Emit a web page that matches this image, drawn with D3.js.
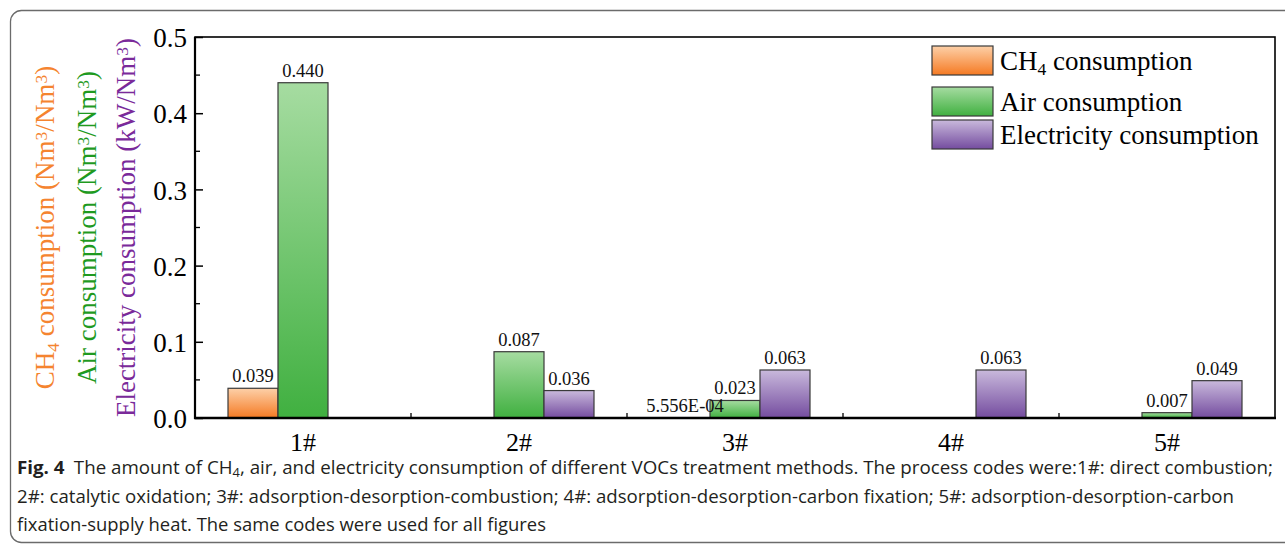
<!DOCTYPE html>
<html>
<head>
<meta charset="utf-8">
<script src="https://cdn.jsdelivr.net/npm/d3@7"></script>
<style>
  html, body { margin: 0; padding: 0; background: #fff; }
  svg { display: block; }
</style>
</head>
<body>
<svg id="chart" width="1285" height="544"></svg>
<script>
// Process codes on the x axis
const categories = ["1#", "2#", "3#", "4#", "5#"];
// Consumption per process (null = not used)
const ch4Values = [0.039, null, 0.0005556, null, null];
const airValues = [0.440, 0.087, 0.023, null, 0.007];
const elecValues = [null, 0.036, 0.063, 0.063, 0.049];
// Value labels as printed above the bars
const ch4Labels = ["0.039", null, "5.556E-04", null, null];
const airLabels = ["0.440", "0.087", "0.023", null, "0.007"];
const elecLabels = [null, "0.036", "0.063", "0.063", "0.049"];
const yTicks = [0, 0.1, 0.2, 0.3, 0.4, 0.5];
const seriesNames = ["CH4 consumption", "Air consumption", "Electricity consumption"];

const svg = d3.select("#chart");
const serif = "'Liberation Serif', 'Times New Roman', serif";

// Outer rounded figure frame
svg.append("rect")
  .attr("x", 10.5).attr("y", 10.5)
  .attr("width", 1320).attr("height", 532)
  .attr("rx", 11).attr("ry", 11)
  .attr("fill", "none").attr("stroke", "#6b6b6b").attr("stroke-width", 1.3);

const m = { left: 195, right: 1275, top: 37, bottom: 418 };

const x0 = d3.scaleBand().domain(categories).range([m.left, m.right]).paddingInner(0).paddingOuter(0);
const x1 = d3.scaleBand().domain([0, 1, 2]).range([0, 150]);
const y = d3.scaleLinear().domain([0, 0.5]).range([m.bottom, m.top]);

// Gradients for each series
const defs = svg.append("defs");
const grads = [
  { id: "gCH4", top: "#fdd0a8", bottom: "#f57a23" },
  { id: "gAir", top: "#a6dca1", bottom: "#40b040" },
  { id: "gElec", top: "#c9b9dc", bottom: "#744c9f" }
];
grads.forEach(g => {
  const lg = defs.append("linearGradient").attr("id", g.id)
    .attr("x1", 0).attr("y1", 0).attr("x2", 0).attr("y2", 1);
  lg.append("stop").attr("offset", "0%").attr("stop-color", g.top);
  lg.append("stop").attr("offset", "100%").attr("stop-color", g.bottom);
});

const series = [
  { values: ch4Values, labels: ch4Labels, fill: "url(#gCH4)" },
  { values: airValues, labels: airLabels, fill: "url(#gAir)" },
  { values: elecValues, labels: elecLabels, fill: "url(#gElec)" }
];

const groupOffset = (x0.bandwidth() - 150) / 2;
const barLayer = svg.append("g");
const labelLayer = svg.append("g");

series.forEach((s, si) => {
  const data = categories.map((c, i) => ({ c, v: s.values[i], label: s.labels[i] })).filter(d => d.v != null);
  barLayer.append("g").selectAll("rect").data(data).join("rect")
    .attr("x", d => x0(d.c) + groupOffset + x1(si))
    .attr("y", d => y(d.v))
    .attr("width", x1.bandwidth())
    .attr("height", d => y(0) - y(d.v))
    .attr("fill", s.fill)
    .attr("stroke", "#3a3a3a").attr("stroke-width", 1.2);
  labelLayer.append("g").selectAll("text").data(data).join("text")
    .attr("x", d => x0(d.c) + groupOffset + x1(si) + x1.bandwidth() / 2)
    .attr("y", d => y(d.v) - 6)
    .attr("text-anchor", "middle")
    .attr("font-family", serif).attr("font-size", 18.5)
    .attr("fill", "#111")
    .text(d => d.label);
});

// Y axis with inward ticks
const yAxis = d3.axisLeft(y).tickValues(yTicks).tickFormat(d3.format(".1f")).tickSizeInner(-8).tickSizeOuter(0).tickPadding(8);
const gy = svg.append("g").attr("transform", `translate(${m.left},0)`).call(yAxis);
gy.select(".domain").remove();
gy.selectAll("line").attr("stroke", "#000").attr("stroke-width", 1.5);
gy.selectAll("text").attr("font-family", serif).attr("font-size", 27).attr("fill", "#000").attr("dy", "0.36em");

// Minor ticks
const minor = d3.range(0.05, 0.5, 0.1);
svg.append("g").selectAll("line").data(minor).join("line")
  .attr("x1", m.left).attr("x2", m.left + 5)
  .attr("y1", d => y(d)).attr("y2", d => y(d))
  .attr("stroke", "#000").attr("stroke-width", 1.3);

// X axis: labels at group centers, ticks between groups
svg.append("g").selectAll("text").data(categories).join("text")
  .attr("x", d => x0(d) + x0.bandwidth() / 2)
  .attr("y", 451)
  .attr("text-anchor", "middle")
  .attr("font-family", serif).attr("font-size", 26).attr("fill", "#000")
  .text(d => d);
svg.append("g").selectAll("line").data(categories.slice(1)).join("line")
  .attr("x1", d => x0(d)).attr("x2", d => x0(d))
  .attr("y1", m.bottom).attr("y2", m.bottom - 5)
  .attr("stroke", "#000").attr("stroke-width", 1.3);

// Plot frame
svg.append("rect")
  .attr("x", m.left).attr("y", m.top)
  .attr("width", m.right - m.left).attr("height", m.bottom - m.top)
  .attr("fill", "none").attr("stroke", "#000").attr("stroke-width", 1.6);
svg.append("line").attr("x1", m.left).attr("x2", m.left).attr("y1", m.top).attr("y2", m.bottom + 1)
  .attr("stroke", "#000").attr("stroke-width", 2.2);
svg.append("line").attr("x1", m.left - 1).attr("x2", m.right + 1).attr("y1", m.bottom).attr("y2", m.bottom)
  .attr("stroke", "#000").attr("stroke-width", 2.6);

// Axis titles (three stacked, rotated)
function richText(sel, parts, size) {
  parts.forEach(p => {
    const t = sel.append("tspan").text(p.t);
    if (p.sub) t.attr("baseline-shift", "-28%").attr("font-size", size * 0.65);
    if (p.sup) t.attr("baseline-shift", "38%").attr("font-size", size * 0.65);
  });
}
const yc = (m.top + m.bottom) / 2;
const titles = [
  { x: 54, color: "#f5842f", parts: [{ t: "CH" }, { t: "4", sub: true }, { t: " consumption (Nm" }, { t: "3", sup: true }, { t: "/Nm" }, { t: "3", sup: true }, { t: ")" }] },
  { x: 96, color: "#1f9a1f", parts: [{ t: "Air consumption (Nm" }, { t: "3", sup: true }, { t: "/Nm" }, { t: "3", sup: true }, { t: ")" }] },
  { x: 135, color: "#7a2a9a", parts: [{ t: "Electricity consumption (kW/Nm" }, { t: "3", sup: true }, { t: ")" }] }
];
titles.forEach(tt => {
  const t = svg.append("text")
    .attr("transform", `translate(${tt.x},${yc}) rotate(-90)`)
    .attr("text-anchor", "middle")
    .attr("font-family", serif).attr("font-size", 27)
    .attr("fill", tt.color);
  richText(t, tt.parts, 27);
});

// Legend
const legendY = [46, 87, 120];
const legendParts = [
  [{ t: "CH" }, { t: "4", sub: true }, { t: " consumption" }],
  [{ t: "Air consumption" }],
  [{ t: "Electricity consumption" }]
];
seriesNames.forEach((name, i) => {
  svg.append("rect")
    .attr("x", 932).attr("y", legendY[i])
    .attr("width", 61).attr("height", 29)
    .attr("fill", series[i].fill)
    .attr("stroke", "#3a3a3a").attr("stroke-width", 1.2);
  const t = svg.append("text")
    .attr("x", 1000).attr("y", legendY[i] + 24)
    .attr("font-family", serif).attr("font-size", 27).attr("fill", "#000");
  richText(t, legendParts[i], 27);
});

// Caption
const capFont = "'Open Sans', 'Noto Sans', sans-serif";
const cap1 = svg.append("text").attr("x", 17).attr("y", 474)
  .attr("font-family", capFont).attr("font-size", 17.5).attr("fill", "#231f20")
  .attr("textLength", 1256).attr("lengthAdjust", "spacingAndGlyphs");
cap1.append("tspan").attr("font-weight", "bold").text("Fig. 4");
cap1.append("tspan").text("\u2002The amount of CH");
cap1.append("tspan").attr("baseline-shift", "-25%").attr("font-size", 12).text("4");
cap1.append("tspan").text(", air, and electricity consumption of different VOCs treatment methods. The process codes were:1#: direct combustion;");
svg.append("text").attr("x", 17).attr("y", 503)
  .attr("font-family", capFont).attr("font-size", 17.5).attr("fill", "#231f20")
  .attr("textLength", 1217).attr("lengthAdjust", "spacingAndGlyphs")
  .text("2#: catalytic oxidation; 3#: adsorption-desorption-combustion; 4#: adsorption-desorption-carbon fixation; 5#: adsorption-desorption-carbon");
svg.append("text").attr("x", 17).attr("y", 531)
  .attr("font-family", capFont).attr("font-size", 17.5).attr("fill", "#231f20")
  .attr("textLength", 529).attr("lengthAdjust", "spacingAndGlyphs")
  .text("fixation-supply heat. The same codes were used for all figures");
</script>
</body>
</html>
